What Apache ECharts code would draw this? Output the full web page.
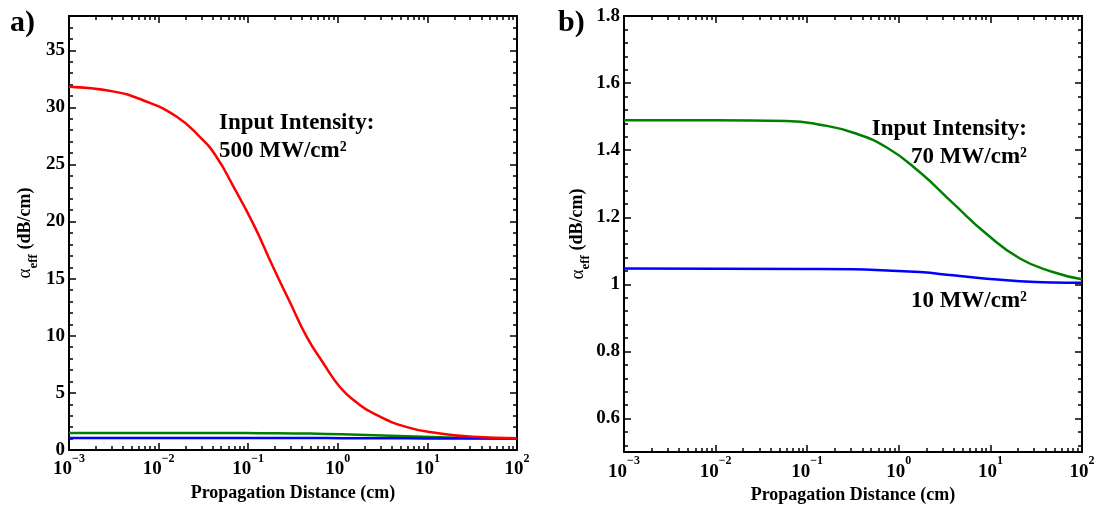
<!DOCTYPE html>
<html><head><meta charset="utf-8">
<script src="https://cdn.jsdelivr.net/npm/echarts@6/dist/echarts.min.js"></script>
<style>html,body{margin:0;padding:0;background:#fff}#c{width:1101px;height:509px}</style>
</head><body><div id="c"></div>
<script>
// ---- data ----
const distRed   = [0.001, 0.0031, 0.0068, 0.0158, 0.029, 0.044, 0.068, 0.114, 0.19, 0.29, 0.45, 0.69, 1.06, 1.6, 2.5, 5.9, 13.8, 32, 100];
const alphaRed  = [31.8, 31.4, 30.6, 29.2, 27.4, 25.7, 23.1, 19.8, 16.0, 13.0, 9.9, 7.6, 5.5, 4.2, 3.2, 2.0, 1.45, 1.15, 1.03];
const distGreen = [0.001, 0.01, 0.06, 0.138, 0.32, 0.74, 1.7, 3.9, 9.1, 21, 48, 100];
const alphaGreen= [1.489, 1.489, 1.487, 1.476, 1.452, 1.408, 1.334, 1.242, 1.15, 1.077, 1.037, 1.015];
const distBlue  = [0.001, 0.1, 0.32, 0.74, 1.7, 3.9, 9.1, 21, 48, 100];
const alphaBlue = [1.047, 1.046, 1.045, 1.0415, 1.0366, 1.027, 1.017, 1.0094, 1.0055, 1.0045];

const xMajor  = [0.001, 0.01, 0.1, 1, 10, 100];
const yMajorA = [0, 5, 10, 15, 20, 25, 30, 35];
const yMajorB = [0.6, 0.8, 1, 1.2, 1.4, 1.6, 1.8];

const xMinor = [];
for (let k = -3; k <= 1; k++) for (let m = 2; m <= 9; m++) xMinor.push(+(m * Math.pow(10, k)).toPrecision(3));
const yMinorA = [];
for (let v = 1; v <= 38; v++) if (v % 5) yMinorA.push(v);
const yMinorB = [];
for (let i = 13; i <= 45; i++) yMinorB.push(+(i * 0.04).toFixed(2));

// ---- styling ----
const FONT = '"Liberation Serif","Times New Roman",serif';
const pairs = (xs, ys) => xs.map((x, i) => [x, ys[i]]);
const lineStyle = {color: '#000', width: 2};

function xAxesFor(g, nameGap) {
  const base = {type: 'log', logBase: 10, gridIndex: g, min: 0.001, max: 100, splitLine: {show: false}};
  return [
    Object.assign({}, base, {
      position: 'bottom',
      axisLine: {show: true, onZero: false, lineStyle},
      axisTick: {show: true, inside: true, length: 7, lineStyle: {color: '#000', width: 1.5}, customValues: xMajor},
      axisLabel: {
        show: true, customValues: xMajor, margin: 3, color: '#000',
        formatter: v => '{b|10}{s|' + String(Math.round(Math.log10(v))).replace('-', '\u2212') + '}',
        rich: {
          b: {fontFamily: FONT, fontWeight: 'bold', fontSize: 19, color: '#000', lineHeight: 26, verticalAlign: 'bottom'},
          s: {fontFamily: FONT, fontWeight: 'bold', fontSize: 12, color: '#000', lineHeight: 12, verticalAlign: 'top'}
        }
      },
      name: 'Propagation Distance (cm)', nameLocation: 'middle', nameGap: nameGap,
      nameTextStyle: {fontFamily: FONT, fontWeight: 'bold', fontSize: 18, color: '#000'}
    }),
    Object.assign({}, base, {
      position: 'bottom',
      axisLine: {show: false, onZero: false},
      axisTick: {show: true, inside: true, length: 4, lineStyle: {color: '#000', width: 1.5}, customValues: xMinor},
      axisLabel: {show: false}
    }),
    Object.assign({}, base, {
      position: 'top',
      axisLine: {show: true, onZero: false, lineStyle},
      axisTick: {show: true, inside: true, length: 7, lineStyle: {color: '#000', width: 1.5}, customValues: xMajor},
      axisLabel: {show: false}
    }),
    Object.assign({}, base, {
      position: 'top',
      axisLine: {show: false, onZero: false},
      axisTick: {show: true, inside: true, length: 4, lineStyle: {color: '#000', width: 1.5}, customValues: xMinor},
      axisLabel: {show: false}
    })
  ];
}

function yAxesFor(g, min, max, major, minor, nameGap, fmt) {
  const base = {type: 'value', gridIndex: g, min, max, splitLine: {show: false}};
  return [
    Object.assign({}, base, {
      position: 'left',
      axisLine: {show: true, onZero: false, lineStyle},
      axisTick: {show: true, inside: true, length: 7, lineStyle: {color: '#000', width: 1.5}, customValues: major},
      axisLabel: {show: true, customValues: major, margin: 4, color: '#000', fontFamily: FONT, fontWeight: 'bold', fontSize: 19, formatter: fmt},
      name: '{g|\u03b1}{e|eff}{n| (dB/cm)}', nameLocation: 'middle', nameGap: nameGap,
      nameTextStyle: {
        color: '#000',
        rich: {
          g: {fontFamily: FONT, fontSize: 19, color: '#000', lineHeight: 24, verticalAlign: 'top'},
          e: {fontFamily: FONT, fontWeight: 'bold', fontSize: 13, color: '#000', lineHeight: 24, verticalAlign: 'bottom'},
          n: {fontFamily: FONT, fontWeight: 'bold', fontSize: 18, color: '#000', lineHeight: 24, verticalAlign: 'top'}
        }
      }
    }),
    Object.assign({}, base, {
      position: 'left',
      axisLine: {show: false, onZero: false},
      axisTick: {show: true, inside: true, length: 4, lineStyle: {color: '#000', width: 1.5}, customValues: minor},
      axisLabel: {show: false}
    }),
    Object.assign({}, base, {
      position: 'right',
      axisLine: {show: true, onZero: false, lineStyle},
      axisTick: {show: true, inside: true, length: 7, lineStyle: {color: '#000', width: 1.5}, customValues: major},
      axisLabel: {show: false}
    }),
    Object.assign({}, base, {
      position: 'right',
      axisLine: {show: false, onZero: false},
      axisTick: {show: true, inside: true, length: 4, lineStyle: {color: '#000', width: 1.5}, customValues: minor},
      axisLabel: {show: false}
    })
  ];
}

function line(name, xs, ys, color, xi, yi, z) {
  return {
    name, type: 'line', data: pairs(xs, ys), xAxisIndex: xi, yAxisIndex: yi,
    showSymbol: false, smooth: 0.5, z,
    lineStyle: {color, width: 2.5}, itemStyle: {color}
  };
}

const textStyle = (extra) => Object.assign({fontFamily: FONT, fontWeight: 'bold', fill: '#000'}, extra);

const option = {
  animation: false,
  backgroundColor: '#fff',
  grid: [
    {left: 69, right: 584, top: 16, bottom: 59, containLabel: false},
    {left: 624, right: 19, top: 16, bottom: 49, containLabel: false}
  ],
  xAxis: [].concat(xAxesFor(0, 25), xAxesFor(1, 25)),
  yAxis: [].concat(
    yAxesFor(0, 0, 38, yMajorA, yMinorA, 29, v => String(v)),
    yAxesFor(1, 0.5, 1.8, yMajorB, yMinorB, 31, v => String(+v.toFixed(1)))
  ),
  series: [
    line('70 MW/cm² (a)', distGreen, alphaGreen, '#008000', 0, 0, 2),
    line('10 MW/cm² (a)', distBlue, alphaBlue, '#0000ff', 0, 0, 3),
    line('500 MW/cm²', distRed, alphaRed, '#ff0000', 0, 0, 4),
    line('70 MW/cm²', distGreen, alphaGreen, '#008000', 4, 4, 2),
    line('10 MW/cm²', distBlue, alphaBlue, '#0000ff', 4, 4, 3)
  ],
  graphic: [
    {type: 'text', left: 10, top: 8, style: textStyle({text: 'a)', fontSize: 30})},
    {type: 'text', left: 558, top: 8, style: textStyle({text: 'b)', fontSize: 30})},
    {type: 'text', left: 219, top: 112, style: textStyle({text: 'Input Intensity:', fontSize: 23})},
    {type: 'text', left: 219, top: 140, style: textStyle({text: '500 MW/cm\u00b2', fontSize: 23})},
    {type: 'text', right: 74, top: 118, style: textStyle({text: 'Input Intensity:', fontSize: 23})},
    {type: 'text', right: 74, top: 146, style: textStyle({text: '70 MW/cm\u00b2', fontSize: 23})},
    {type: 'text', right: 74, top: 290, style: textStyle({text: '10 MW/cm\u00b2', fontSize: 23})}
  ]
};

const chart = echarts.init(document.getElementById('c'), null, {renderer: 'canvas'});
chart.setOption(option);
</script>
</body></html>
